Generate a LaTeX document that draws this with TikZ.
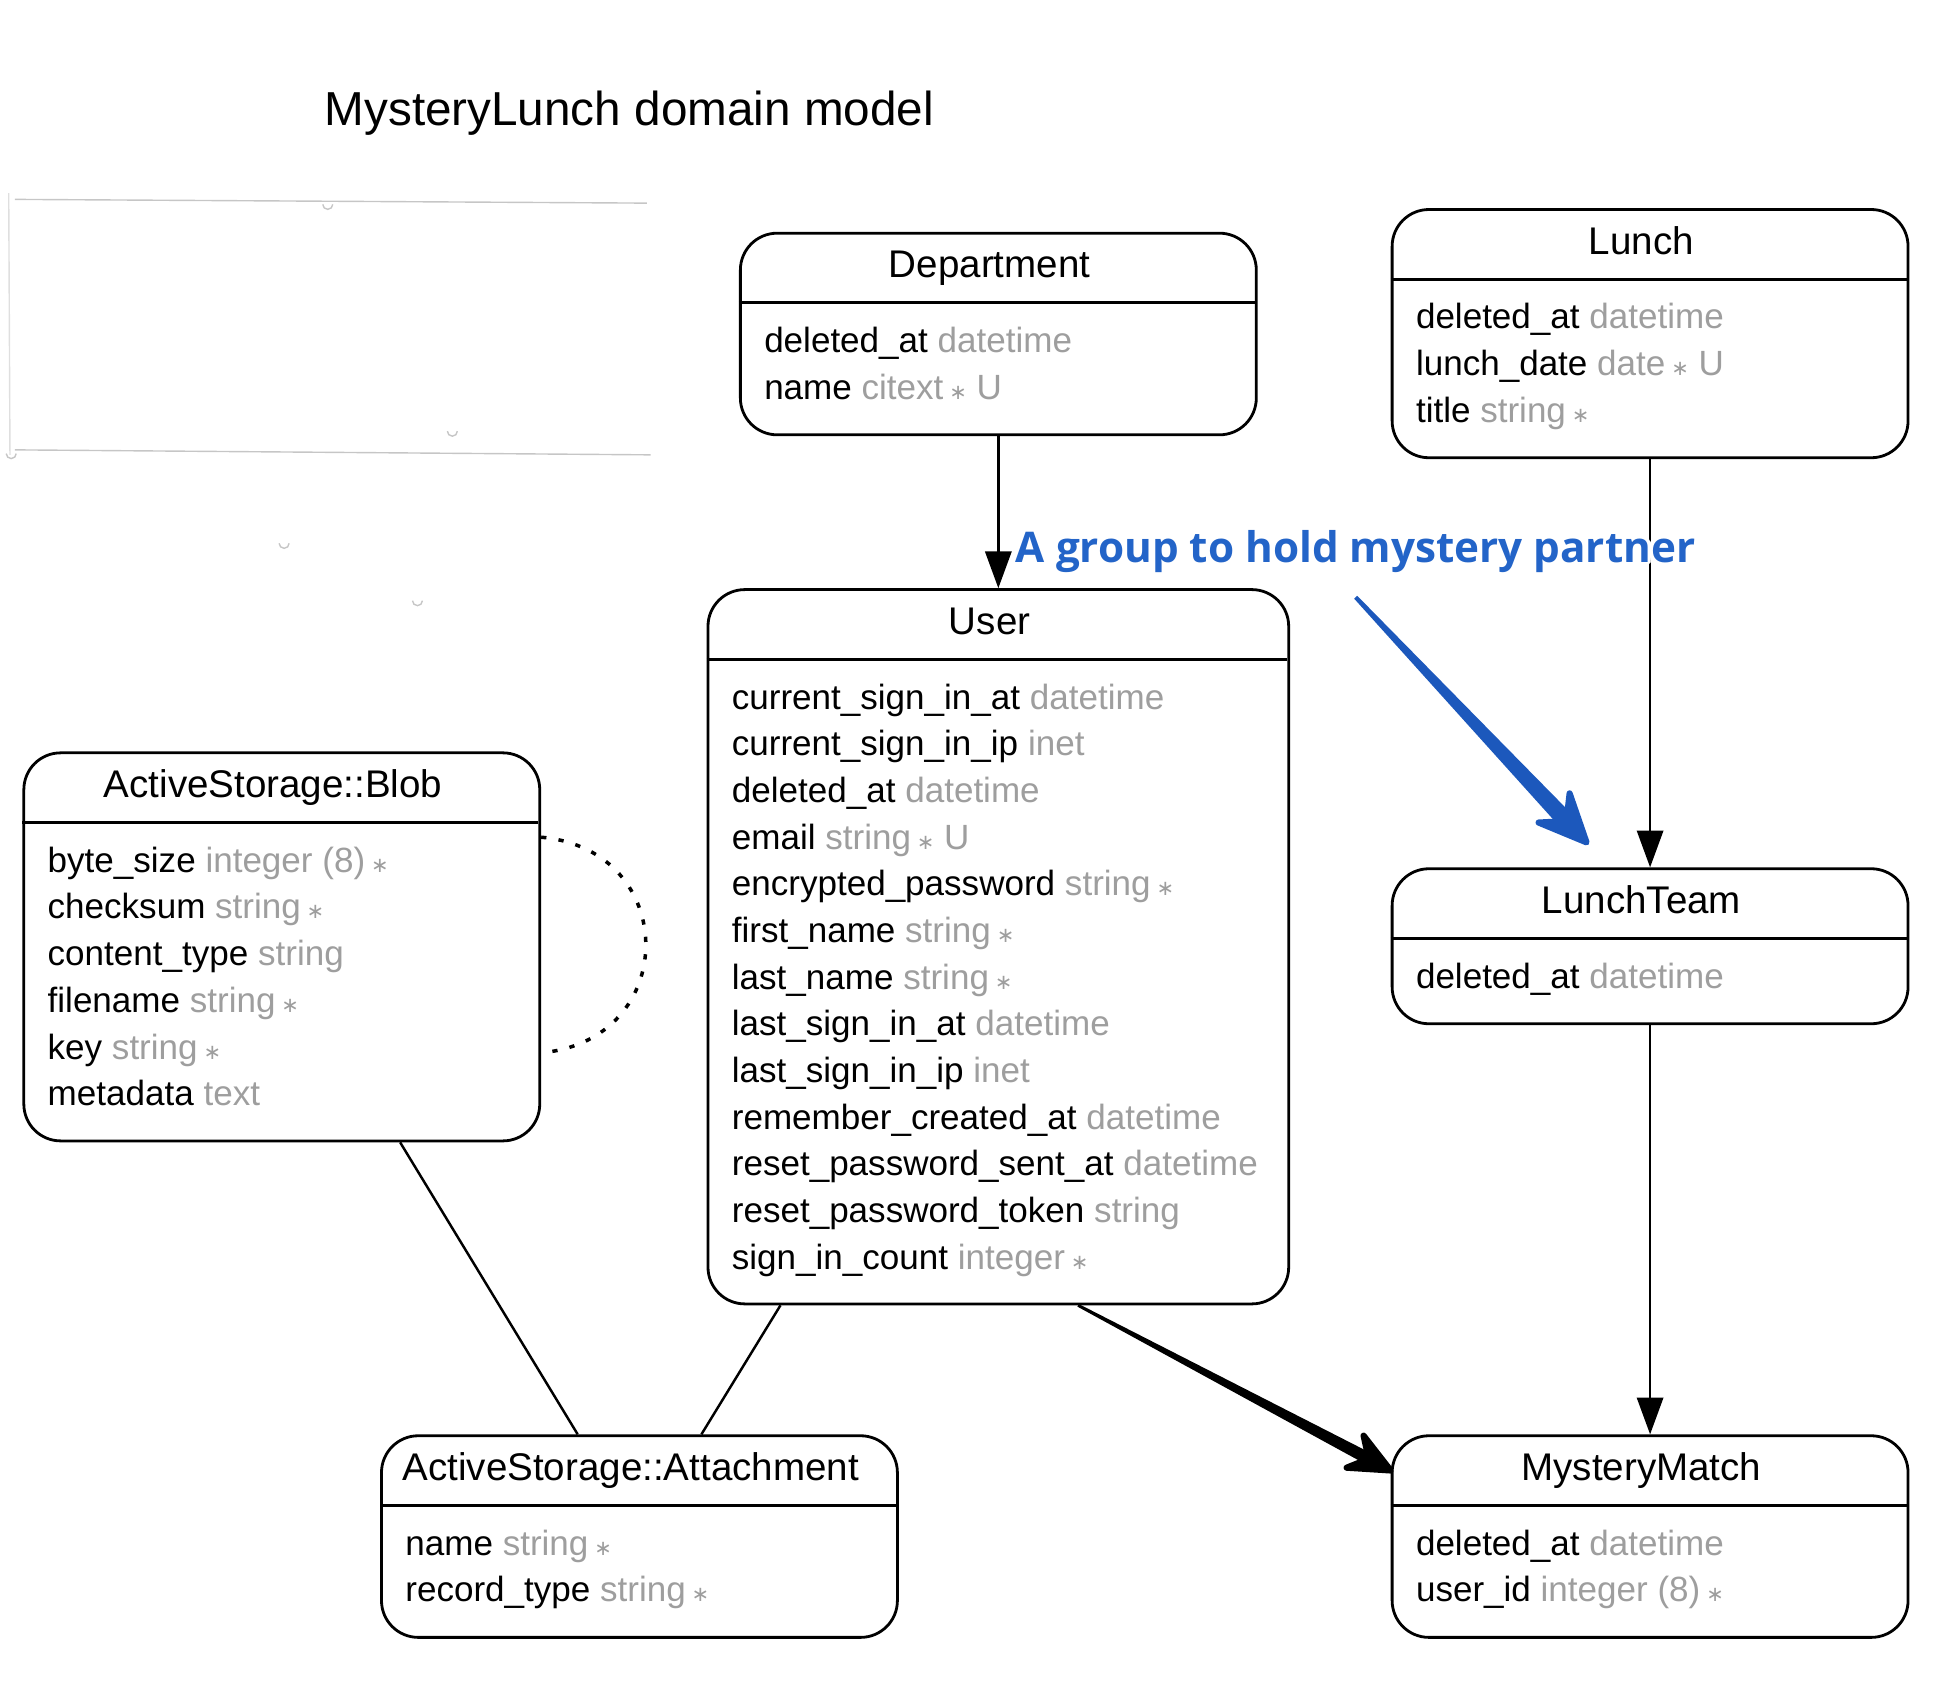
\documentclass[tikz,border=0pt]{standalone}
\usepackage{fontspec}
\setmainfont{Liberation Sans}
\newfontfamily\notefont{Open Sans}
\newfontfamily\starfont{DejaVu Sans}
\usepackage{contour}
\contourlength{2pt}
\usetikzlibrary{arrows.meta,calc,positioning}

\definecolor{typegray}{gray}{0.62}
\definecolor{noteblue}{RGB}{35,100,200}
\definecolor{arrowblue}{RGB}{28,88,188}

\newcommand\ty[1]{\textcolor{typegray}{#1}}
\newcommand\req{\,\textcolor{typegray}{\starfont\fontsize{12pt}{12pt}\selectfont ∗}}

% name, left, top, width, rows, title, attributes
\newcommand\entity[7]{%
  \node[entitybox, minimum width=#4*0.025cm, minimum height={(87+37.4*#5)*0.025cm}] (#1) at (#2,#3) {};
  \draw[entityline] (#1.north west) ++(0,57) -- ++(#4,0);
  \path (#1.north) ++(-7,37) node[titletext] {#6};
  \foreach \a [count=\i] in {#7}
    \path (#1.north west) ++(20,{97+37.45*(\i-1)}) node[attrtext] {\a};
}

% colour, start, tip, head length, shaft width
\newcommand\fatarrow[5]{%
  \fill[#1] let \p1=(#2), \p2=(#3), \n1={atan2(\y2-\y1,\x2-\x1)} in
    ($(\p1)+(\n1+90:0.12*#5)$) -- ($(\p2)+(\n1+180:0.6*#4)+(\n1+90:0.5*#5)$)
    -- ($(\p2)+(\n1+180:0.6*#4)+(\n1-90:0.5*#5)$) -- ($(\p1)+(\n1-90:0.12*#5)$) -- cycle;
  \filldraw[#1, line width=3.5pt, line join=round] let \p1=(#2), \p2=(#3), \n1={atan2(\y2-\y1,\x2-\x1)} in
    (\p2) -- ($(\p2)+(\n1+180:#4)+(\n1+90:0.45*#4)$) -- ($(\p2)+(\n1+180:0.62*#4)$)
    -- ($(\p2)+(\n1+180:#4)+(\n1-90:0.45*#4)$) -- cycle;
}

\begin{document}
\begin{tikzpicture}[x=0.025cm, y=-0.025cm,
    entitybox/.style={draw, line width=1.6pt, rounded corners=21pt, inner sep=0pt, anchor=north west},
    entityline/.style={line width=1.6pt},
    titletext/.style={anchor=base, inner sep=0pt, font=\fontsize{22pt}{26pt}\selectfont},
    attrtext/.style={anchor=base west, inner sep=0pt, font=\fontsize{20pt}{24pt}\selectfont},
    headtext/.style={anchor=base, inner sep=0pt, font=\fontsize{27.2pt}{32pt}\selectfont},
    notetext/.style={anchor=base west, inner sep=0pt, text=noteblue, font=\notefont\bfseries\fontsize{24.1pt}{29pt}\selectfont},
    rel/.style={line width=1.4pt},
    relarrow/.style={rel, -{Triangle[length=21pt, width=15pt]}},
    selfrel/.style={line width=2pt, dash pattern=on 3pt off 7pt},
    ghost/.style={draw=gray!45, line width=0.8pt}]
  \useasboundingbox (0,0) rectangle (1568,1353);

  % faint leftovers top left
  \draw[ghost] (12,160) -- (519,163);
  \draw[ghost] (12,361) -- (522,365);
  \draw[ghost, draw=gray!25] (7,155) -- (8,365);
  \foreach \gx/\gy in {263/164, 363/346, 9/364, 228/436, 335/482}
    \draw[ghost] (\gx-4,\gy) arc[start angle=180, end angle=0, radius=4];

  \node[headtext] (heading) at (505,101) {MysteryLunch domain model};

  \entity{dept}{593}{186}{414}{2}{Department}{deleted\_at \ty{datetime}, name \ty{citext}\req\ \ty{U}}
  \entity{lunch}{1116}{167}{414}{3}{Lunch}{deleted\_at \ty{datetime}, lunch\_date \ty{date}\req\ \ty{U}, title \ty{string}\req}
  \entity{user}{567}{472}{466}{13}{User}{%
    current\_sign\_in\_at \ty{datetime}, current\_sign\_in\_ip \ty{inet}, deleted\_at \ty{datetime},
    email \ty{string}\req\ \ty{U}, encrypted\_password \ty{string}\req, first\_name \ty{string}\req,
    last\_name \ty{string}\req, last\_sign\_in\_at \ty{datetime}, last\_sign\_in\_ip \ty{inet},
    remember\_created\_at \ty{datetime}, reset\_password\_sent\_at \ty{datetime},
    reset\_password\_token \ty{string}, sign\_in\_count \ty{integer}\req}
  \entity{blob}{18}{603}{414}{6}{ActiveStorage::Blob}{%
    byte\_size \ty{integer (8)}\req, checksum \ty{string}\req, content\_type \ty{string},
    filename \ty{string}\req, key \ty{string}\req, metadata \ty{text}}
  \entity{lteam}{1116}{696}{414}{1}{LunchTeam}{deleted\_at \ty{datetime}}
  \entity{attach}{305}{1151}{414}{2}{ActiveStorage::Attachment}{name \ty{string}\req, record\_type \ty{string}\req}
  \entity{mmatch}{1116}{1151}{414}{2}{MysteryMatch}{deleted\_at \ty{datetime}, user\_id \ty{integer (8)}\req}

  % relations
  \draw[relarrow] (dept.south) -- (user.north);
  \draw[relarrow] (lunch.south) -- (lteam.north);
  \draw[relarrow] (lteam.south) -- (mmatch.north);
  \draw[rel] (blob) -- (attach);
  \draw[rel] (user) -- (attach);
  \draw[selfrel] ($(blob.east)+(0,-88)$) .. controls +(112,10) and +(112,-10) .. ($(blob.east)+(0,85)$);
  \coordinate (mmS) at ($(user.south)+(64,0)$);
  \coordinate (mmT) at ($(mmatch.north west)+(0,29)$);
  \fatarrow{black}{mmS}{mmT}{23pt}{7pt}

  % note
  \node[notetext] (note) at (815,451) {\contour{white}{A group to hold mystery partner}};
  \coordinate (noteS) at ($(note.south)+(0,17)$);
  \coordinate (noteT) at ($(lteam.north)+(-51,-20)$);
  \fatarrow{arrowblue}{noteS}{noteT}{27pt}{10pt}
\end{tikzpicture}
\end{document}
